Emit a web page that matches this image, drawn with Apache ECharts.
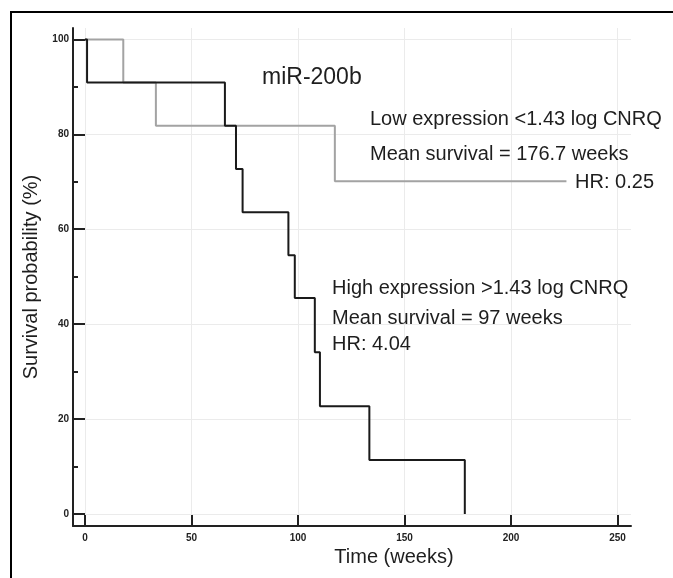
<!DOCTYPE html>
<html>
<head>
<meta charset="utf-8">
<script src="https://cdn.jsdelivr.net/npm/echarts@6/dist/echarts.min.js"></script>
<style>
  html, body { margin: 0; padding: 0; background: #fff; }
  #wrap { position: relative; width: 673px; height: 578px; overflow: hidden; }
  #frame { position: absolute; left: 10px; top: 11px; width: 700px; height: 600px;
           border-top: 2px solid #000; border-left: 2px solid #000; }
  #chart { position: absolute; left: 0; top: 0; width: 673px; height: 578px; }
</style>
</head>
<body>
<div id="wrap">
  <div id="frame"></div>
  <div id="chart"></div>
</div>
<script>
// ---- data ----
const lowTimes  = [0, 18, 33.3, 117.3, 226];
const lowSurv   = [100, 90.9, 81.8, 70.1, 70.1];
const highTimes = [0, 1, 65.7, 70.9, 74, 95.5, 98.5, 107.9, 110.3, 133.5, 178.3];
const highSurv  = [100, 90.9, 81.8, 72.7, 63.6, 54.5, 45.5, 34.1, 22.7, 11.4, 0];
const xTicks = [0, 50, 100, 150, 200, 250];
const yTicks = [0, 20, 40, 60, 80, 100];
const yMinorTicks = [10, 30, 50, 70, 90];
const titleText = 'miR-200b';
const lowText  = ['Low expression <1.43 log CNRQ', 'Mean survival = 176.7 weeks', 'HR: 0.25'];
const highText = ['High expression >1.43 log CNRQ', 'Mean survival = 97 weeks', 'HR: 4.04'];
const xName = 'Time (weeks)';
const yName = 'Survival probability (%)';

const lowData  = lowTimes.map((t, i) => [t, lowSurv[i]]);
const highData = highTimes.map((t, i) => [t, highSurv[i]]);

const FONT = '"Liberation Sans", Arial, Helvetica, sans-serif';
const AX = '#222';

const chart = echarts.init(document.getElementById('chart'), null, { renderer: 'canvas' });
const tickLabel = { fontSize: 10, fontWeight: 'bold', color: AX, fontFamily: FONT };
function annot(x, y, text, size, align) {
  return { type: 'text', x: x, y: y, silent: true, z: 100,
    style: { text: text, fontSize: size, fontFamily: FONT, fill: '#1e1e1e',
             textAlign: align || 'left', textVerticalAlign: 'middle' } };
}
chart.setOption({
  animation: false,
  backgroundColor: 'transparent',
  grid: { left: 73, right: 42, top: 28, bottom: 52, containLabel: false },
  xAxis: {
    type: 'value', min: -5.6, max: 256.3,
    axisLine: { show: true, onZero: false, lineStyle: { color: AX, width: 2 } },
    axisTick: { show: true, inside: true, length: 11, customValues: xTicks, lineStyle: { color: AX, width: 2 } },
    axisLabel: Object.assign({ customValues: xTicks, margin: 7 }, tickLabel),
    splitLine: { show: true, lineStyle: { color: '#ebebeb', width: 1 } },
    name: xName, nameLocation: 'middle', nameGap: 18,
    nameTextStyle: { fontSize: 20, color: '#1e1e1e', fontFamily: FONT, padding: [0, 0, 0, 84] }
  },
  yAxis: [{
    type: 'value', min: -2.53, max: 102.4,
    axisLine: { show: true, onZero: false, lineStyle: { color: AX, width: 2 } },
    axisTick: { show: true, inside: true, length: 12, customValues: yTicks, lineStyle: { color: AX, width: 2 } },
    axisLabel: Object.assign({ customValues: yTicks, margin: 4 }, tickLabel),
    splitLine: { show: true, lineStyle: { color: '#ebebeb', width: 1 } },
    name: yName, nameLocation: 'middle', nameGap: 24,
    nameTextStyle: { fontSize: 20, color: '#1e1e1e', fontFamily: FONT }
  }, {
    type: 'value', min: -2.53, max: 102.4, position: 'left',
    axisLine: { show: false, onZero: false },
    axisTick: { show: true, inside: true, length: 5, customValues: yMinorTicks, lineStyle: { color: AX, width: 2 } },
    axisLabel: { show: false },
    splitLine: { show: false }
  }],
  series: [{
    type: 'line', step: 'end', data: lowData, symbol: 'none', z: 2,
    lineStyle: { color: '#a3a3a3', width: 2 }
  }, {
    type: 'line', step: 'end', data: highData, symbol: 'none', z: 3,
    lineStyle: { color: '#1a1a1a', width: 2 }
  }],
  graphic: [
    annot(262, 78, titleText, 23),
    annot(370, 119, lowText[0], 20),
    annot(370, 154.5, lowText[1], 20),
    annot(654, 182, lowText[2], 20, 'right'),
    annot(332, 288, highText[0], 20),
    annot(332, 318, highText[1], 20),
    annot(332, 344, highText[2], 20)
  ]
});
</script>
</body>
</html>
